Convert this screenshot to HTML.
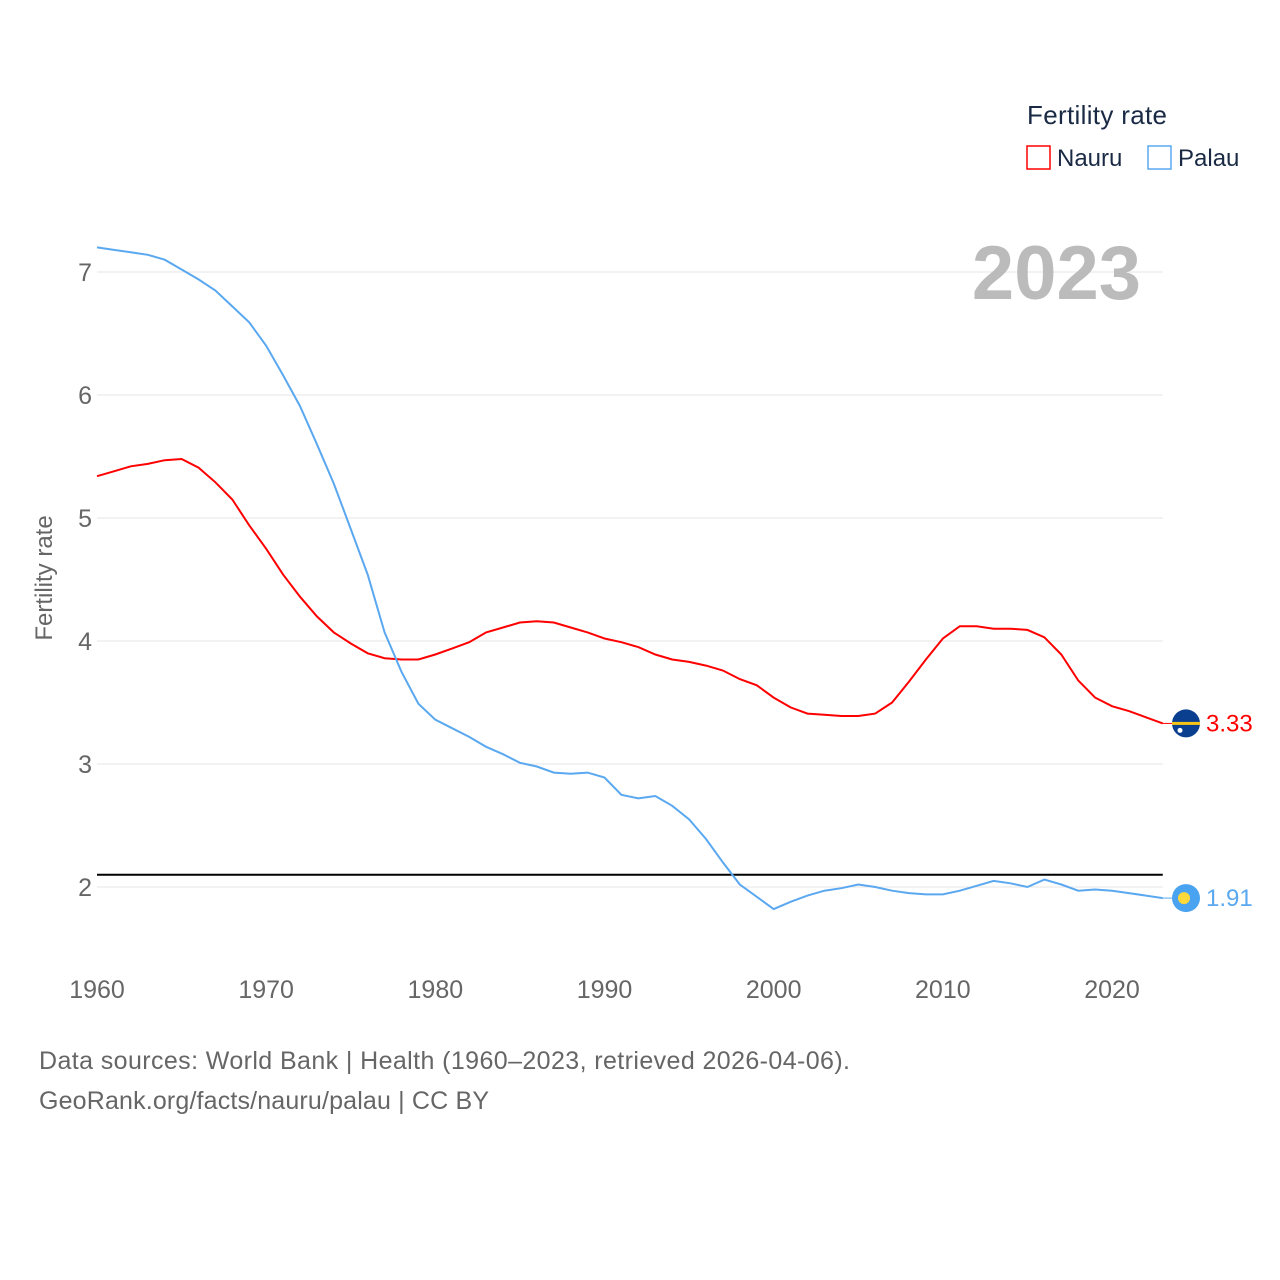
<!DOCTYPE html>
<html><head><meta charset="utf-8"><style>
body{margin:0;background:#fff;font-family:"Liberation Sans",sans-serif}
svg{display:block}
</style></head><body>
<svg width="1280" height="1280" font-family="Liberation Sans, sans-serif">
<g id="grid"></g>
<g id="yt" font-size="25" fill="#666"></g>
<g id="xt" font-size="25" fill="#666"></g>
<text x="1141" y="299" text-anchor="end" font-size="76" font-weight="bold" fill="#bbb">2023</text>
<text transform="translate(52,578) rotate(-90)" text-anchor="middle" font-size="24" fill="#666">Fertility rate</text>
<line id="ref" stroke="#000" stroke-width="2"/>
<path id="pN" fill="none" stroke="#ff0000" stroke-width="2"/>
<path id="pP" fill="none" stroke="#5aa8f0" stroke-width="2"/>
<g id="ends"></g>
<text x="1027" y="124" font-size="26" fill="#1a2a45" textLength="140">Fertility rate</text>
<g><rect x="1027" y="146" width="23" height="23" fill="none" stroke="#ff0000" stroke-width="1.5"/><text x="1057" y="166" font-size="24" fill="#1a2a45">Nauru</text></g>
<g><rect x="1148" y="146" width="23" height="23" fill="none" stroke="#5aa8f0" stroke-width="1.5"/><text x="1178" y="166" font-size="24" fill="#1a2a45">Palau</text></g>
<text x="39" y="1069" font-size="25" fill="#666" textLength="811">Data sources: World Bank | Health (1960–2023, retrieved 2026-04-06).</text>
<text x="39" y="1109" font-size="25" fill="#666" textLength="450">GeoRank.org/facts/nauru/palau | CC BY</text>
</svg>
<script>
const startYear=1960;
const nauru=[5.34,5.38,5.42,5.44,5.47,5.48,5.41,5.29,5.15,4.94,4.75,4.54,4.36,4.20,4.07,3.98,3.90,3.86,3.85,3.85,3.89,3.94,3.99,4.07,4.11,4.15,4.16,4.15,4.11,4.07,4.02,3.99,3.95,3.89,3.85,3.83,3.80,3.76,3.69,3.64,3.54,3.46,3.41,3.40,3.39,3.39,3.41,3.50,3.67,3.85,4.02,4.12,4.12,4.10,4.10,4.09,4.03,3.89,3.68,3.54,3.47,3.43,3.38,3.33];
const palau=[7.20,7.18,7.16,7.14,7.10,7.02,6.94,6.85,6.72,6.59,6.40,6.16,5.91,5.60,5.28,4.91,4.54,4.07,3.75,3.49,3.36,3.29,3.22,3.14,3.08,3.01,2.98,2.93,2.92,2.93,2.89,2.75,2.72,2.74,2.66,2.55,2.39,2.20,2.02,1.92,1.82,1.88,1.93,1.97,1.99,2.02,2.00,1.97,1.95,1.94,1.94,1.97,2.01,2.05,2.03,2.00,2.06,2.02,1.97,1.98,1.97,1.95,1.93,1.91];
const yTicks=[2,3,4,5,6,7];
const xTicks=[1960,1970,1980,1990,2000,2010,2020];
const replacement=2.1;
const NS="http://www.w3.org/2000/svg";
const X=yr=>97+(yr-1960)*16.917;
const Y=v=>887-(v-2)*123;
const x0=97,x1=X(2023);
const grid=document.getElementById('grid'),yt=document.getElementById('yt'),xt=document.getElementById('xt');
yTicks.forEach(t=>{
 const l=document.createElementNS(NS,'line');
 
 
 l.setAttribute('x1',x0);l.setAttribute('x2',x1);l.setAttribute('y1',Y(t));l.setAttribute('y2',Y(t));
 l.setAttribute('stroke','#e6e6e6');l.setAttribute('stroke-width','1');grid.appendChild(l);
 const s=document.createElementNS(NS,'text');
 
 
 s.setAttribute('x',92);s.setAttribute('y',Y(t)+9);s.setAttribute('text-anchor','end');s.textContent=t;yt.appendChild(s);
});
xTicks.forEach(t=>{
 const s=document.createElementNS(NS,'text');
 
 
 s.setAttribute('x',X(t));s.setAttribute('y',998);s.setAttribute('text-anchor','middle');s.textContent=t;xt.appendChild(s);
});
const r=document.getElementById('ref');
r.setAttribute('x1',x0);r.setAttribute('x2',x1);r.setAttribute('y1',Y(replacement));r.setAttribute('y2',Y(replacement));
const path=a=>a.map((v,i)=>(i?'L':'M')+X(startYear+i).toFixed(1)+','+Y(v).toFixed(1)).join('');
document.getElementById('pN').setAttribute('d',path(nauru));
document.getElementById('pP').setAttribute('d',path(palau));
const ends=document.getElementById('ends');
function endMark(arr,col,name,inner){
 const v=arr[arr.length-1],y=Y(v);
 const g=document.createElementNS(NS,'g');
 
 
 g.innerHTML=`<line x1="${x1}" x2="1172" y1="${y}" y2="${y}" stroke="${col}" stroke-width="1"/>`+inner(y)+
 `<text x="1206" y="${y+8}" font-size="24" fill="${col}">${v.toFixed(2)}</text>`;
 ends.appendChild(g);
}
endMark(nauru,'#ff0000','nauru-end-marker',y=>`<circle cx="1186" cy="${y}" r="14" fill="#0a3e8e"/><rect x="1172" y="${y-1.5}" width="28" height="3" fill="#f5c518"/><circle cx="1180" cy="${y+7}" r="2.5" fill="#fff"/>`);
endMark(palau,'#5aa8f0','palau-end-marker',y=>`<circle cx="1186" cy="${y}" r="14" fill="#4aa3f0"/><circle cx="1184" cy="${y}" r="6" fill="#ffd83a"/>`);
</script>
</body></html>
